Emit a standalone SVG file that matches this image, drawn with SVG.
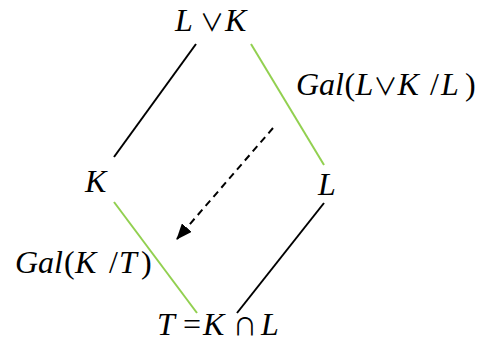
<svg xmlns="http://www.w3.org/2000/svg" width="486" height="343" viewBox="0 0 486 343">
<style>
text{font-family:"Liberation Serif","Times New Roman",serif;font-size:32px;fill:#000}
.i{font-style:italic}
.s{font-family:"Noto Sans CJK JP","DejaVu Sans",sans-serif;font-size:24px}
.blk{stroke:#000;stroke-width:2;fill:none}
.grn{stroke:#92d050;stroke-width:2;fill:none}
.dash{stroke:#000;stroke-width:2;fill:none;stroke-dasharray:7,5}
</style>
<defs>
<marker id="ah" viewBox="0 0 16 13" refX="15" refY="6.5" markerWidth="16" markerHeight="13" orient="auto" markerUnits="userSpaceOnUse">
<path d="M0,0 L16,6.5 L0,13 Z" fill="#000"/>
</marker>
</defs>
<rect width="486" height="343" fill="#fff"/>
<g id="connectors">
<line class="blk" x1="196" y1="44" x2="114" y2="157"/>
<line class="grn" x1="251" y1="44" x2="324" y2="165"/>
<line class="grn" x1="114" y1="202" x2="197" y2="313"/>
<line class="blk" x1="324" y1="203" x2="237" y2="313"/>
<line class="dash" x1="273" y1="128" x2="177" y2="239" marker-end="url(#ah)"/>
</g>
<g id="node-LvK">
<text y="31"><tspan class="i" x="175">L</tspan><tspan class="s" x="200">∨</tspan><tspan class="i" x="225">K</tspan></text>
</g>
<g id="node-K">
<text y="192"><tspan class="i" x="85">K</tspan></text>
</g>
<g id="node-L">
<text y="195"><tspan class="i" x="318">L</tspan></text>
</g>
<g id="node-T">
<text y="335"><tspan class="i" x="157">T</tspan><tspan x="183">=</tspan><tspan class="i" x="203">K</tspan><tspan class="s" x="233">∩</tspan><tspan class="i" x="261">L</tspan></text>
</g>
<g id="label-gal-top">
<text y="95"><tspan class="i" x="296">Gal</tspan><tspan x="344.5">(</tspan><tspan class="i" x="355.5">L</tspan><tspan class="s" x="373.5">∨</tspan><tspan class="i" x="397.5">K</tspan><tspan x="430">/</tspan><tspan class="i" x="441">L</tspan><tspan x="465">)</tspan></text>
</g>
<g id="label-gal-bottom">
<text y="273"><tspan class="i" x="15">Gal</tspan><tspan x="64">(</tspan><tspan class="i" x="75">K</tspan><tspan x="109">/</tspan><tspan class="i" x="119">T</tspan><tspan x="141">)</tspan></text>
</g>
</svg>
